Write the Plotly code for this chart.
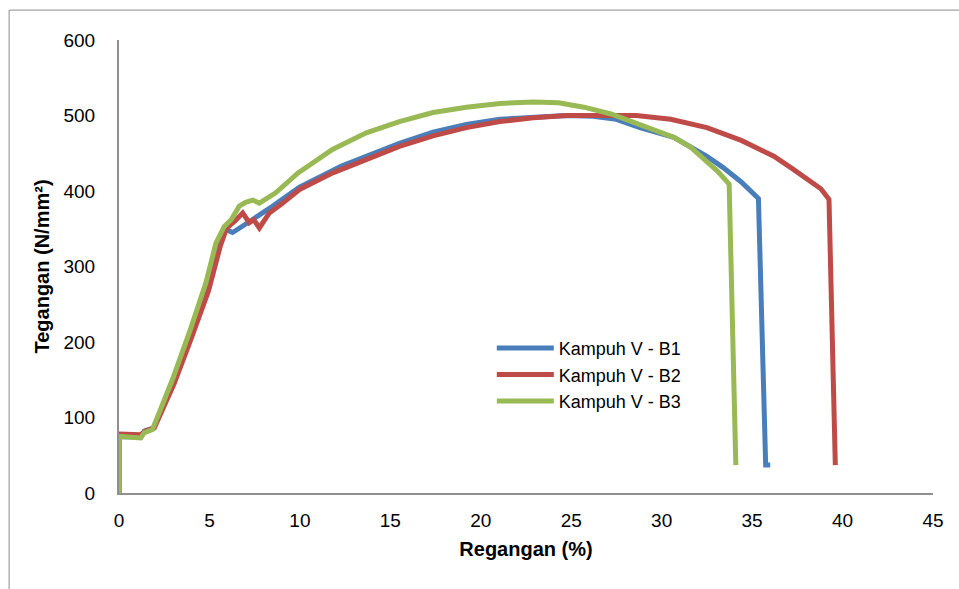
import plotly.graph_objects as go

# Regangan (%) / Tegangan (N/mm²)
b1_x = [0, 0, 1.2, 1.4, 1.9, 3.0, 3.95, 4.85, 5.45, 5.9, 6.1, 6.28, 6.8, 7.39, 8.5, 9.98, 11.09,
        12.3, 13.67, 15.5, 17.36, 19.2, 21.06, 22.9, 24.76, 26.2, 27.5, 28.8, 30.67, 32.5,
        33.4, 34.4, 35.35, 35.75, 36.0]
b1_y = [0, 75, 74, 82, 86, 148, 209, 273, 326, 350, 347, 345, 353, 362, 380, 405, 419,
        433, 446, 463, 478, 488, 495, 498, 500, 499, 495, 484, 471, 446,
        431, 412, 390, 37, 37]

b2_x = [0, 0, 1.2, 1.45, 1.95, 3.05, 4.0, 4.95, 5.6, 5.95, 6.4, 6.84, 7.2, 7.45, 7.76, 8.31,
        9.0, 9.98, 11.82, 13.67, 15.5, 17.36, 19.2, 21.06, 22.9, 24.76, 26.6, 28.6, 30.5,
        32.5, 34.4, 36.2, 37.2, 38.2, 38.8, 39.25, 39.6]
b2_y = [0, 78, 77, 82, 86, 145, 205, 268, 327, 351, 360, 371, 358, 362, 351, 371,
        383, 402, 424, 442, 459, 473, 484, 492, 497, 500, 500, 500, 495,
        484, 467, 446, 430, 414, 403, 389, 37]

b3_x = [0, 0, 1.2, 1.4, 1.85, 2.95, 3.88, 4.8, 5.36, 5.82, 6.2, 6.65, 7.0, 7.39, 7.76, 8.68,
        9.9, 11.8, 13.67, 15.5, 17.36, 19.2, 21.06, 22.9, 24.3, 25.7, 27.2, 28.6, 30.67,
        31.6, 32.4, 33.1, 33.73, 34.1]
b3_y = [0, 75, 73, 80, 84, 150, 212, 278, 331, 353, 362, 380, 385, 388, 384, 398,
        424, 455, 477, 492, 504, 511, 516, 518, 517, 511, 502, 489, 471,
        458, 442, 426, 409, 37]

names = ["Kampuh V - B1", "Kampuh V - B2", "Kampuh V - B3"]
colors = ["#4A7EBB", "#BE4B48", "#98B954"]

x_ticks = [0, 5, 10, 15, 20, 25, 30, 35, 40, 45]
y_ticks = [0, 100, 200, 300, 400, 500, 600]

FONT = "Liberation Sans, Arial, sans-serif"

fig = go.Figure()
for xs, ys, nm, c in zip([b1_x, b2_x, b3_x], [b1_y, b2_y, b3_y], names, colors):
    fig.add_trace(go.Scatter(x=xs, y=ys, mode="lines", name=nm,
                             line=dict(color=c, width=5)))

fig.update_layout(
    width=959, height=589,
    margin=dict(l=119, r=26, t=40, b=96),
    paper_bgcolor="white", plot_bgcolor="white",
    font=dict(family=FONT, size=19, color="black"),
    showlegend=True,
    legend=dict(x=0.458, y=0.36, xanchor="left", yanchor="top",
                bgcolor="rgba(0,0,0,0)", font=dict(size=18, family=FONT),
                itemwidth=57, tracegroupgap=0),
    shapes=[
        dict(type="line", xref="paper", yref="paper", x0=-0.135, x1=1.05, y0=1.066, y1=1.066,
             line=dict(color="#8c8c8c", width=1)),
        dict(type="line", xref="paper", yref="paper", x0=-0.135, x1=-0.135, y0=1.066, y1=-0.25,
             line=dict(color="#8c8c8c", width=1)),
    ],
)
fig.update_xaxes(
    range=[0, 45], tickvals=x_ticks, ticktext=[str(v) for v in x_ticks],
    showgrid=False, zeroline=False, showline=True, linecolor="#8f8f8f", linewidth=2,
    ticks="", ticklabelstandoff=9,
    title=dict(text="<b>Regangan (%)</b>", standoff=12, font=dict(size=20, family=FONT)),
)
fig.update_yaxes(
    range=[0, 600], tickvals=y_ticks, ticktext=[str(v) for v in y_ticks],
    showgrid=False, zeroline=False, showline=True, linecolor="#8f8f8f", linewidth=2,
    ticks="", ticklabelstandoff=18,
    title=dict(text="<b>Tegangan (N/mm²)</b>", standoff=8, font=dict(size=20, family=FONT)),
)

fig.write_html("out.html")
